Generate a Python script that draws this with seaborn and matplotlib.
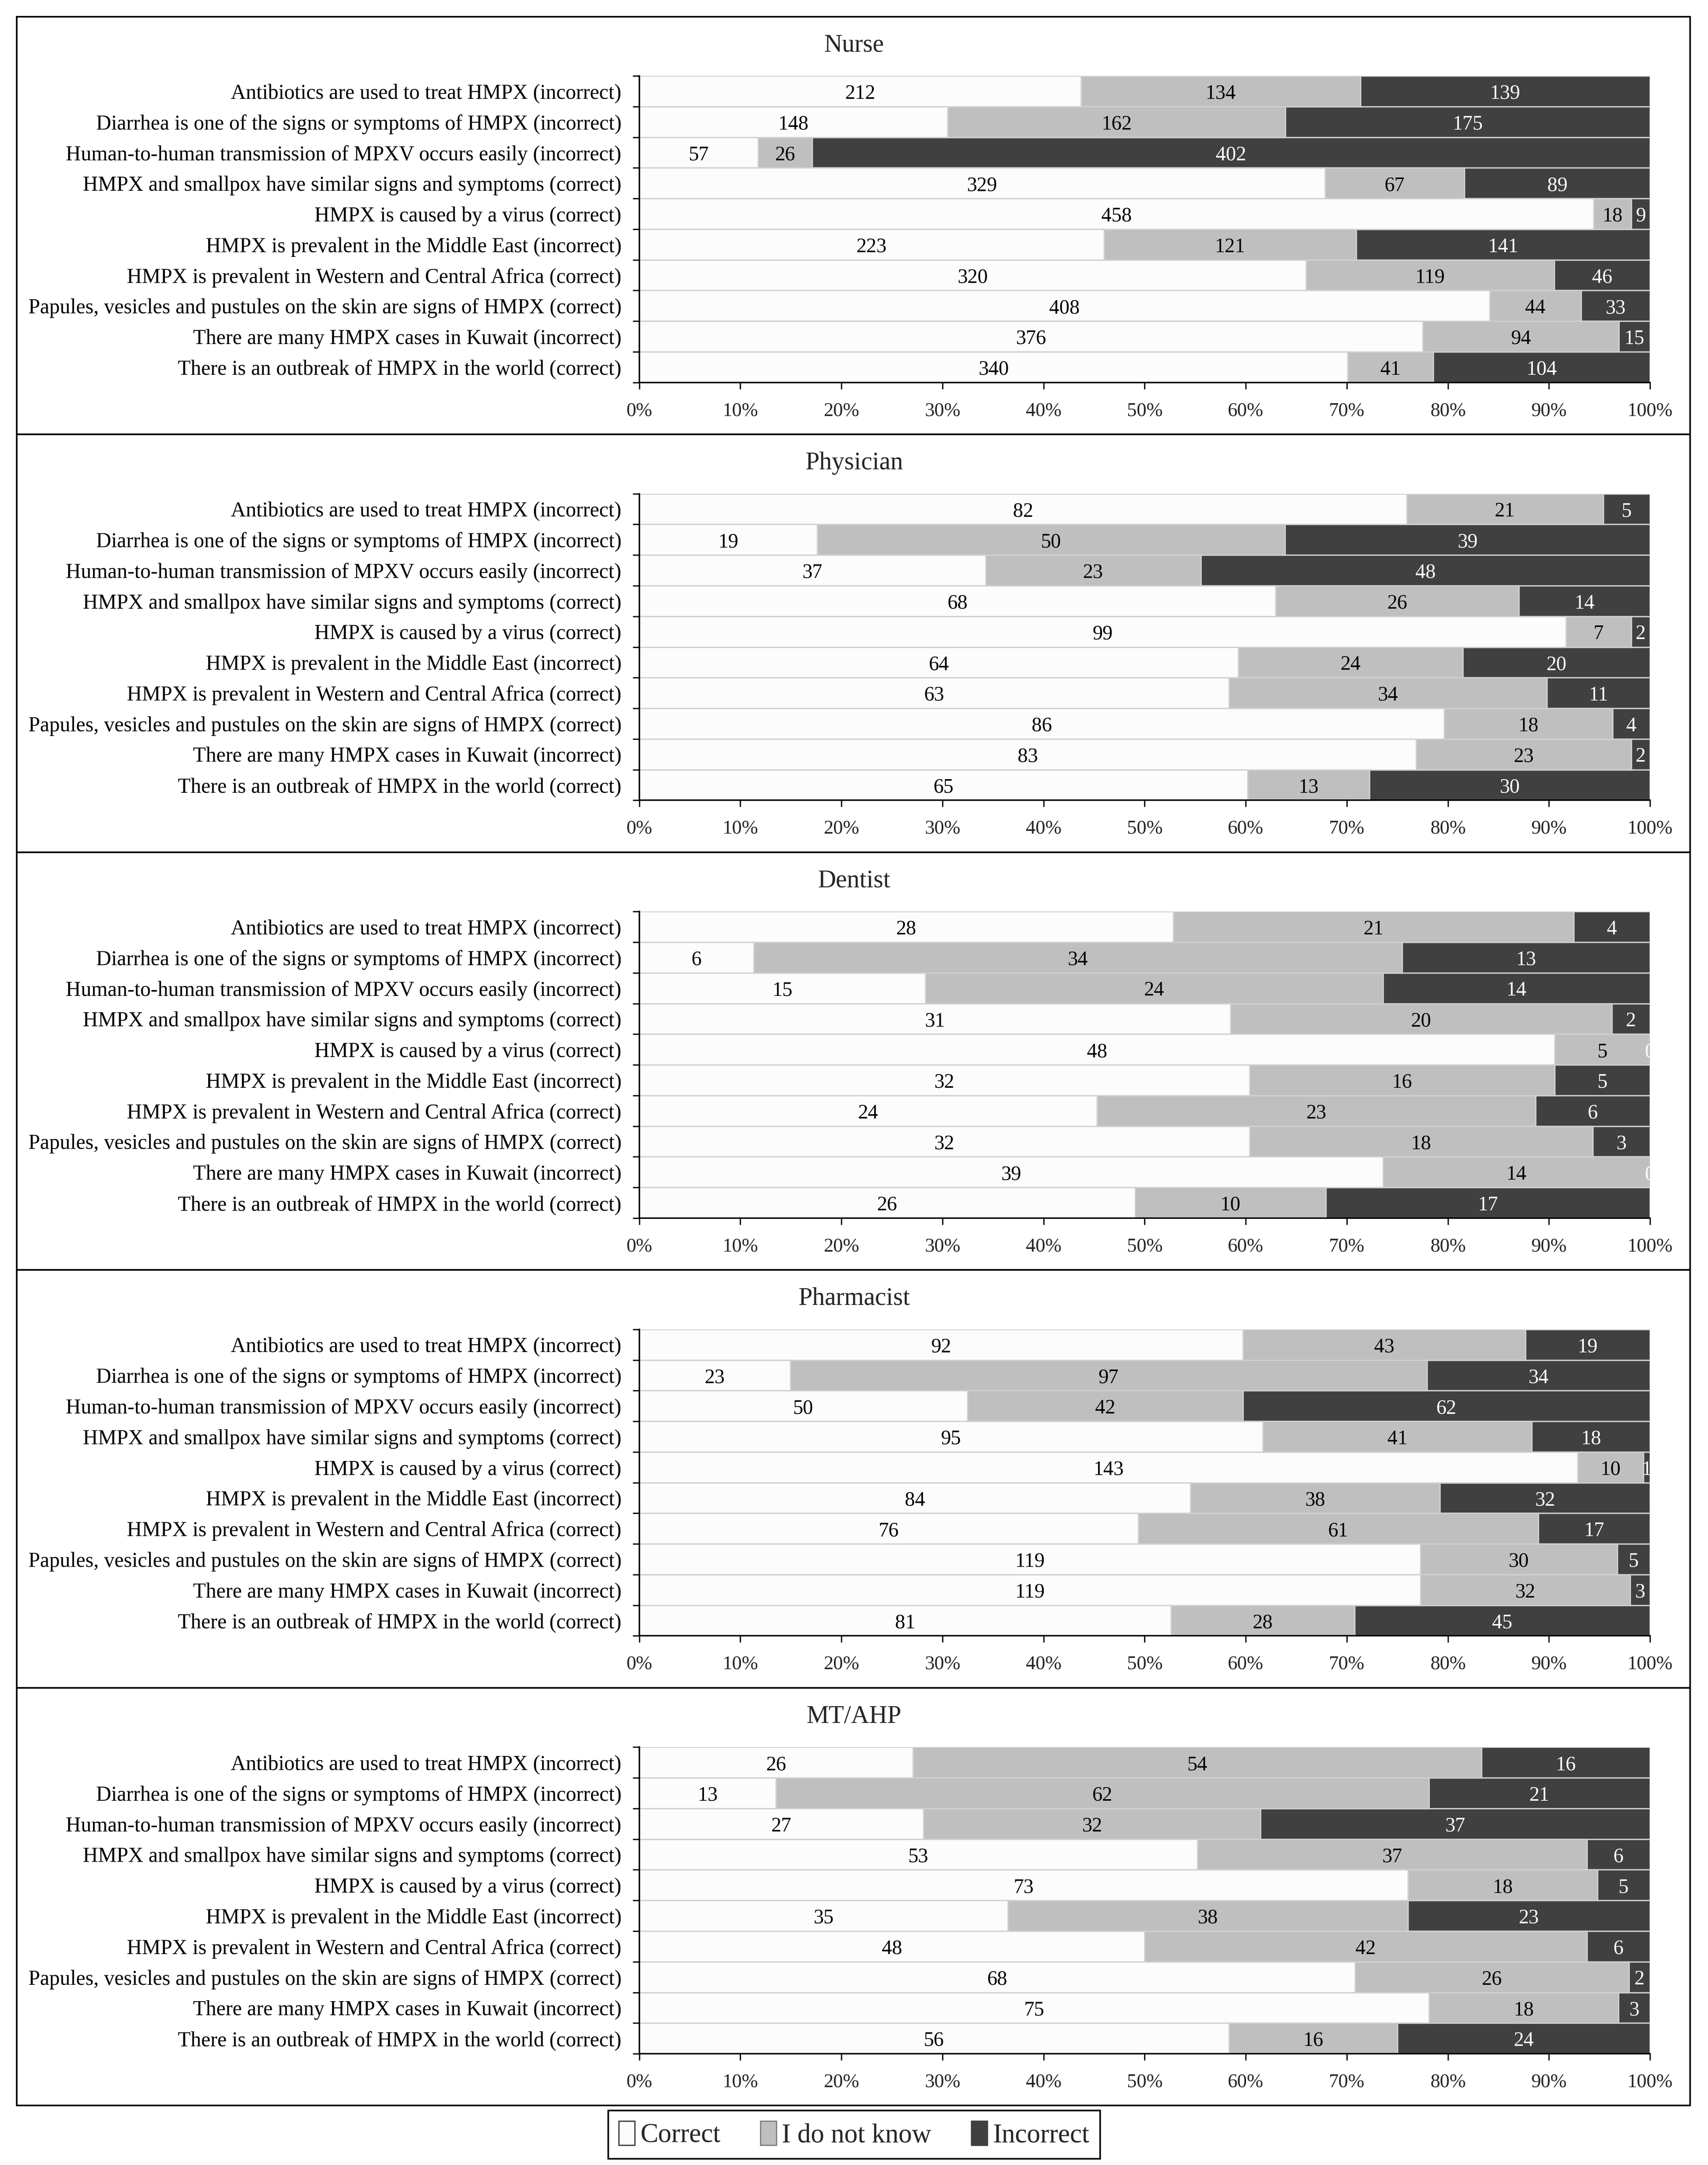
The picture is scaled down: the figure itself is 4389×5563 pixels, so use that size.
import pandas as pd
import matplotlib.pyplot as plt
import seaborn as sns
from matplotlib.patches import Rectangle, Patch
from matplotlib.ticker import FixedLocator, PercentFormatter

# questions (top to bottom)
questions = [
    "Antibiotics are used to treat HMPX (incorrect)",
    "Diarrhea is one of the signs or symptoms of HMPX (incorrect)",
    "Human-to-human transmission of MPXV occurs easily (incorrect)",
    "HMPX and smallpox have similar signs and symptoms (correct)",
    "HMPX is caused by a virus (correct)",
    "HMPX is prevalent in the Middle East (incorrect)",
    "HMPX is prevalent in Western and Central Africa (correct)",
    "Papules, vesicles and pustules on the skin are signs of HMPX (correct)",
    "There are many HMPX cases in Kuwait (incorrect)",
    "There is an outbreak of HMPX in the world (correct)",
]

groups = ["Nurse", "Physician", "Dentist", "Pharmacist", "MT/AHP"]

# answer counts per group
nurse_correct = [212, 148, 57, 329, 458, 223, 320, 408, 376, 340]
nurse_unknown = [134, 162, 26, 67, 18, 121, 119, 44, 94, 41]
nurse_incorrect = [139, 175, 402, 89, 9, 141, 46, 33, 15, 104]

physician_correct = [82, 19, 37, 68, 99, 64, 63, 86, 83, 65]
physician_unknown = [21, 50, 23, 26, 7, 24, 34, 18, 23, 13]
physician_incorrect = [5, 39, 48, 14, 2, 20, 11, 4, 2, 30]

dentist_correct = [28, 6, 15, 31, 48, 32, 24, 32, 39, 26]
dentist_unknown = [21, 34, 24, 20, 5, 16, 23, 18, 14, 10]
dentist_incorrect = [4, 13, 14, 2, 0, 5, 6, 3, 0, 17]

pharmacist_correct = [92, 23, 50, 95, 143, 84, 76, 119, 119, 81]
pharmacist_unknown = [43, 97, 42, 41, 10, 38, 61, 30, 32, 28]
pharmacist_incorrect = [19, 34, 62, 18, 1, 32, 17, 5, 3, 45]

mtahp_correct = [26, 13, 27, 53, 73, 35, 48, 68, 75, 56]
mtahp_unknown = [54, 62, 32, 37, 18, 38, 42, 26, 18, 16]
mtahp_incorrect = [16, 21, 37, 6, 5, 23, 6, 2, 3, 24]

group_data = {
    "Nurse": (nurse_correct, nurse_unknown, nurse_incorrect),
    "Physician": (physician_correct, physician_unknown, physician_incorrect),
    "Dentist": (dentist_correct, dentist_unknown, dentist_incorrect),
    "Pharmacist": (pharmacist_correct, pharmacist_unknown, pharmacist_incorrect),
    "MT/AHP": (mtahp_correct, mtahp_unknown, mtahp_incorrect),
}

answer_labels = ["Correct", "I do not know", "Incorrect"]
answer_colors = ["#fcfcfc", "#bfbfbf", "#404040"]
text_colors = ["black", "black", "white"]

sns.set_theme(style="white")
plt.rcParams["font.family"] = ["Liberation Serif", "DejaVu Serif"]

W, H = 4389, 5563
fig = plt.figure(figsize=(W / 300, H / 300), dpi=300)

# layout in the 1237x1568 reference scale
RW, RH = 1237.0, 1568.0
panel_pitch = 302.6
ax_left = 463 / RW
ax_width = (1195 - 463) / RW

for k, grp in enumerate(groups):
    top = 12 + panel_pitch * k
    correct, unknown, incorrect = group_data[grp]
    df = pd.DataFrame({
        "question": questions,
        "correct": correct,
        "unknown": unknown,
        "incorrect": incorrect,
    })
    total = df[["correct", "unknown", "incorrect"]].sum(axis=1)
    df["p_correct"] = df["correct"] / total * 100
    df["p_unknown"] = df["unknown"] / total * 100
    df["p_incorrect"] = df["incorrect"] / total * 100
    df["c1"] = df["p_correct"]
    df["c2"] = df["p_correct"] + df["p_unknown"]
    df["c3"] = df["c2"] + df["p_incorrect"]

    ax = fig.add_axes([ax_left, 1 - (top + 265) / RH, ax_width, 222 / RH])

    # stacked bars by overlaying cumulative totals
    for col, colr in zip(["c3", "c2", "c1"], answer_colors[::-1]):
        sns.barplot(data=df, x=col, y="question", color=colr, width=1.0,
                    orient="h", ax=ax, edgecolor="#d0d0d0", linewidth=0.8,
                    saturation=1)

    # value labels centered in each segment
    starts = [df["c1"] * 0, df["c1"], df["c2"]]
    for j, (cnt_col, pct_col) in enumerate(zip(["correct", "unknown", "incorrect"],
                                               ["p_correct", "p_unknown", "p_incorrect"])):
        for i in range(len(df)):
            xc = starts[j].iloc[i] + df[pct_col].iloc[i] / 2
            ax.text(xc, i + 0.08, str(df[cnt_col].iloc[i]), ha="center", va="center",
                    fontsize=12.5, color=text_colors[j], clip_on=True)

    ax.set_xlim(0, 100)
    ax.set_ylim(len(questions) - 0.5, -0.5)
    ax.set_xlabel("")
    ax.set_ylabel("")
    ax.xaxis.set_major_locator(FixedLocator(range(0, 101, 10)))
    ax.xaxis.set_major_formatter(PercentFormatter(decimals=0))
    ax.yaxis.set_minor_locator(FixedLocator([i - 0.5 for i in range(len(questions) + 1)]))
    ax.tick_params(axis="y", which="major", length=0, pad=11, labelsize=12.9, colors="black")
    ax.tick_params(axis="y", which="minor", left=True, length=4, width=0.8, color="black")
    ax.tick_params(axis="x", which="major", bottom=True, length=4, width=0.8,
                   color="black", labelsize=12, pad=8)
    for s in ["top", "right"]:
        ax.spines[s].set_visible(False)
    for s in ["left", "bottom"]:
        ax.spines[s].set_color("black")
        ax.spines[s].set_linewidth(0.9)

    # panel title and frame
    fig.text(0.5, 1 - (top + 21) / RH, grp, ha="center", va="center", fontsize=15.5)
    fig.add_artist(Rectangle((12 / RW, 1 - (top + panel_pitch) / RH),
                             (1224 - 12) / RW, panel_pitch / RH,
                             transform=fig.transFigure, fill=False,
                             edgecolor="black", linewidth=1.0))

handles = [Patch(facecolor=c, edgecolor=e, linewidth=0.8)
           for c, e in zip(answer_colors, ["#404040", "#808080", "#404040"])]
fig.legend(handles, answer_labels, loc="center", bbox_to_anchor=(0.5, 1 - 1546 / RH),
           ncol=3, fontsize=16.5, frameon=True, fancybox=False, edgecolor="black",
           framealpha=1, handlelength=0.6, handleheight=1.0, handletextpad=0.2,
           columnspacing=1.5, borderpad=0.4, borderaxespad=0)

fig.savefig("out.png", dpi=300)
